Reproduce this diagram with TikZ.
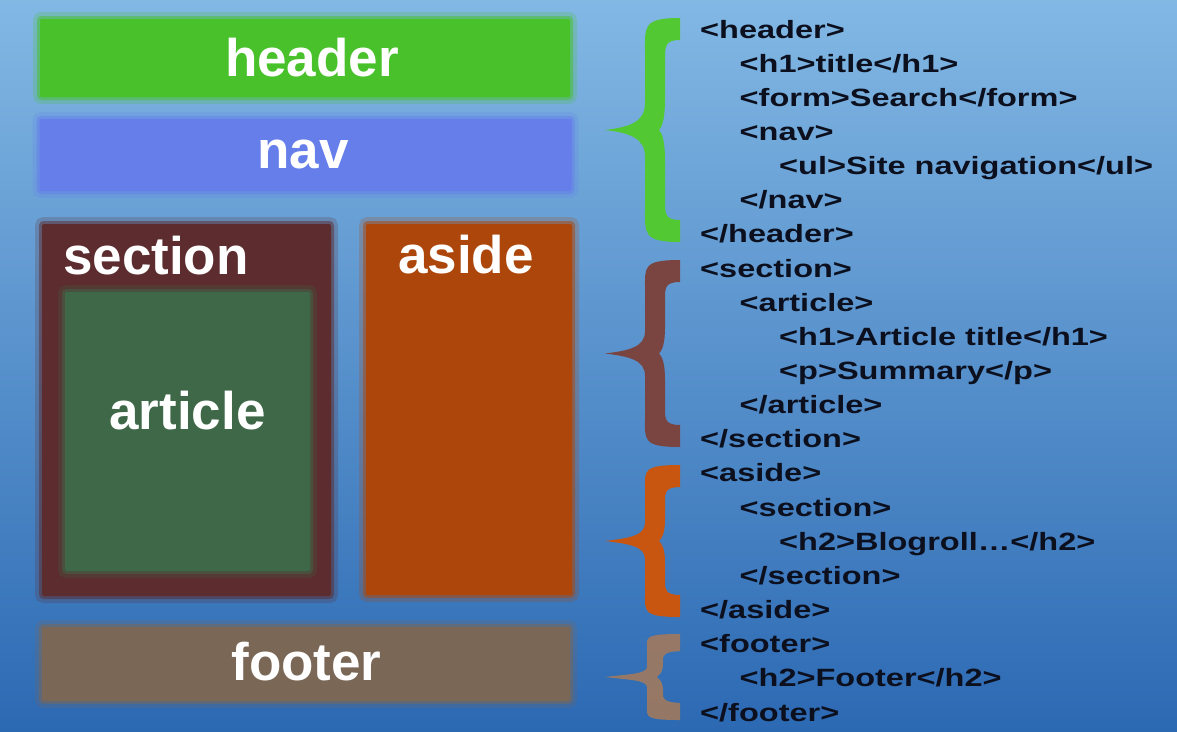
\documentclass[tikz,border=0pt]{standalone}
\usepackage{fontspec}
\setmainfont{Liberation Sans}
\definecolor{bgtop}{RGB}{130,184,228}
\definecolor{bgbot}{RGB}{44,105,179}
\definecolor{hdrgreen}{RGB}{72,193,42}
\definecolor{navblue}{RGB}{101,126,234}
\definecolor{secmaroon}{RGB}{92,44,46}
\definecolor{artgreen}{RGB}{62,104,72}
\definecolor{asideorange}{RGB}{172,70,10}
\definecolor{footbrown}{RGB}{122,103,86}
\definecolor{codecol}{RGB}{12,16,30}
\definecolor{brgreen}{RGB}{82,200,50}
\definecolor{brmaroon}{RGB}{122,68,64}
\definecolor{brorange}{RGB}{200,86,16}
\definecolor{brbrown}{RGB}{168,122,88}
\tikzset{
  box/.style={rectangle, inner sep=0pt, fill=#1, draw=#1, draw opacity=0.5,
    line width=6pt, rounded corners=2pt,
    preaction={draw=#1, draw opacity=0.22, line width=14pt, rounded corners=5pt}},
  lbl/.style={inner sep=0pt, anchor=base, text=white,
    font=\fontsize{53}{60}\selectfont\bfseries},
  codetext/.style={inner sep=0pt, anchor=base west, text=codecol,
    font=\fontsize{25}{28}\selectfont\bfseries},
}
\newcommand\codeline[4]{\node[codetext] (#1) at ({700+39.5*#3},{38+34.15*#2}) {\scalebox{1.30}[1]{#4}};}
\newcommand\curly[5]{%
  \pgfmathsetmacro\ym{(#2+#3)/2}%
  \pgfmathsetmacro\hh{(#3-#2)/2}%
  \pgfmathsetmacro\ee{0.3*\hh}%
  \pgfmathsetmacro\mm{0.24*\hh}%
  \pgfmathsetmacro\tt{min(22,0.4*\hh)}%
  \pgfmathsetmacro\xl{655-#5}%
  \pgfmathsetmacro\xr{655+#5}%
  \fill[#1, fill opacity=#4]
    (680,#2) .. controls ({\xl-2},#2) and (\xl,{#2+0.25*\ee}) .. (\xl,{#2+\ee})
    -- (\xl,{\ym-\mm}) .. controls (\xl,{\ym-0.3*\mm}) and (630,{\ym-3}) .. (605,\ym)
    .. controls (630,{\ym+3}) and (\xl,{\ym+0.3*\mm}) .. (\xl,{\ym+\mm})
    -- (\xl,{#3-\ee}) .. controls (\xl,{#3-0.25*\ee}) and ({\xl-2},#3) .. (680,#3)
    -- (680,{#3-\tt}) .. controls (\xr,{#3-\tt}) and (\xr,{#3-\tt-6}) .. (\xr,{#3-\tt-0.6*\ee})
    -- (\xr,{\ym+\mm+4}) .. controls (\xr,{\ym+0.4*\mm}) and ({\xr-3},{\ym+3}) .. ({\xr-6},\ym)
    .. controls ({\xr-3},{\ym-3}) and (\xr,{\ym-0.4*\mm}) .. (\xr,{\ym-\mm-4})
    -- (\xr,{#2+\tt+0.6*\ee}) .. controls (\xr,{#2+\tt+6}) and (\xr,{#2+\tt}) .. (680,{#2+\tt})
    -- cycle;}
\begin{document}
\begin{tikzpicture}[x=1pt,y=-1pt]
\useasboundingbox (0,0) rectangle (1177,731);
\shade[top color=bgtop, bottom color=bgbot] (0,0) rectangle (1177,731);
% layout boxes
\node[box=hdrgreen, minimum width=530, minimum height=78] (header) at (305,58) {};
\node[box=navblue, minimum width=532, minimum height=72] (nav) at (305.5,155) {};
\node[box=secmaroon, minimum width=289, minimum height=372] (section) at (186.5,410) {};
\node[box=artgreen, minimum width=245, minimum height=279] (article) at (187.5,431.5) {};
\node[box=asideorange, minimum width=206, minimum height=371] (aside) at (469,409.5) {};
\node[box=footbrown, minimum width=528, minimum height=74] (footer) at (306,664) {};
% labels
\node[lbl] (lheader) at (312,76) {header};
\node[lbl] (lnav) at (303,168) {nav};
\node[lbl, anchor=base west] (lsection) at (63,274) {section};
\node[lbl] (laside) at (466,273) {aside};
\node[lbl] (larticle) at (187.5,429) {article};
\node[lbl] (lfooter) at (306.5,680) {footer};
% braces
\curly{brgreen}{18}{242}{1}{10}
\curly{brmaroon}{260}{447}{1}{10}
\curly{brorange}{465}{617}{1}{10}
\curly{brbrown}{634}{720}{0.85}{8}
% code
\codeline{c0}{0}{0}{<header>}
\codeline{c1}{1}{1}{<h1>title</h1>}
\codeline{c2}{2}{1}{<form>Search</form>}
\codeline{c3}{3}{1}{<nav>}
\codeline{c4}{4}{2}{<ul>Site navigation</ul>}
\codeline{c5}{5}{1}{</nav>}
\codeline{c6}{6}{0}{</header>}
\codeline{c7}{7}{0}{<section>}
\codeline{c8}{8}{1}{<article>}
\codeline{c9}{9}{2}{<h1>Article title</h1>}
\codeline{c10}{10}{2}{<p>Summary</p>}
\codeline{c11}{11}{1}{</article>}
\codeline{c12}{12}{0}{</section>}
\codeline{c13}{13}{0}{<aside>}
\codeline{c14}{14}{1}{<section>}
\codeline{c15}{15}{2}{<h2>Blogroll…</h2>}
\codeline{c16}{16}{1}{</section>}
\codeline{c17}{17}{0}{</aside>}
\codeline{c18}{18}{0}{<footer>}
\codeline{c19}{19}{1}{<h2>Footer</h2>}
\codeline{c20}{20}{0}{</footer>}
\end{tikzpicture}
\end{document}
